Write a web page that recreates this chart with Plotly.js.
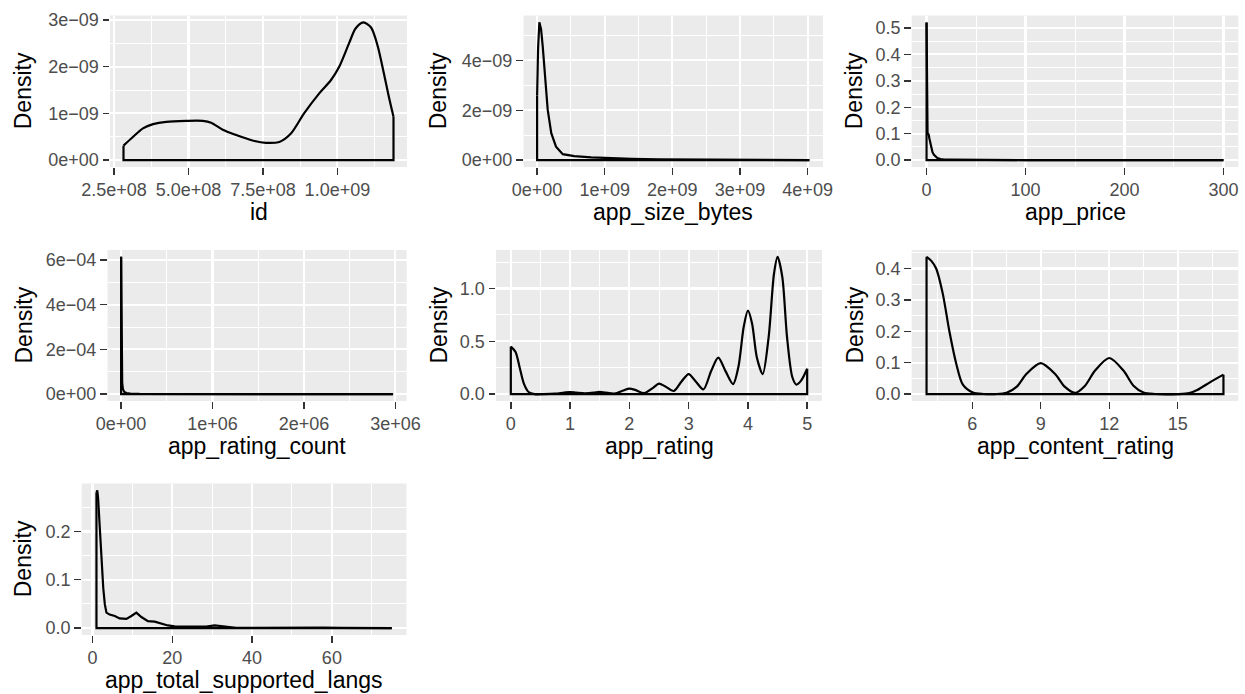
<!DOCTYPE html>
<html><head><meta charset="utf-8">
<script src="https://cdn.plot.ly/plotly-3.0.1.min.js"></script>
<style>html,body{margin:0;padding:0;background:#fff}#chart{width:1245px;height:694px}</style>
</head><body><div id="chart"></div>
<script>
// ---------- data ----------
const idX = [2.8166e8, 3.14e8, 3.47e8, 3.81e8, 4.25e8, 4.92e8, 5.48e8, 5.76e8, 6.15e8, 6.59e8, 7.15e8, 7.6e8, 8.05e8, 8.44e8, 8.88e8, 9.39e8, 9.78e8, 1.006e9, 1.039e9, 1.061e9, 1.087e9, 1.113e9, 1.135e9, 1.156e9, 1.172e9, 1.1884e9];
const idDensity = [0.31e-9, 0.50e-9, 0.68e-9, 0.77e-9, 0.82e-9, 0.84e-9, 0.84e-9, 0.80e-9, 0.65e-9, 0.54e-9, 0.42e-9, 0.37e-9, 0.39e-9, 0.57e-9, 1.0e-9, 1.43e-9, 1.71e-9, 2.0e-9, 2.5e-9, 2.82e-9, 2.95e-9, 2.84e-9, 2.45e-9, 1.86e-9, 1.38e-9, 0.93e-9];

const sizeX = [5.89824e5, 1.5e7, 3.4e7, 5.9e7, 8.3e7, 1.2e8, 1.57e8, 2.1e8, 2.8e8, 3.8e8, 5.5e8, 8.0e8, 1.05e9, 1.4e9, 1.8e9, 2.2e9, 2.6e9, 3.0e9, 3.4e9, 3.8e9, 4.025969664e9];
const sizeDensity = [2.59e-9, 4.5e-9, 5.52e-9, 5.25e-9, 4.58e-9, 3.37e-9, 2.02e-9, 1.08e-9, 0.54e-9, 0.24e-9, 0.16e-9, 0.11e-9, 0.08e-9, 0.05e-9, 0.03e-9, 0.02e-9, 0.015e-9, 0.01e-9, 0.005e-9, 0.005e-9, 0.003e-9];

const priceX = [0, 0.3, 0.6, 1.0, 1.5, 2.0, 3.0, 4.0, 5.0, 6.0, 7.5, 9, 11, 14, 18, 25, 35, 50, 75, 100, 150, 200, 250, 299.99];
const priceDensity = [0.521, 0.30, 0.12, 0.107, 0.095, 0.10, 0.08, 0.06, 0.042, 0.03, 0.02, 0.014, 0.008, 0.004, 0.002, 0.0015, 0.001, 0.0006, 0.0003, 0.0002, 0.0001, 0.0001, 0.00005, 0.00003];

const ratingCountX = [0, 3000, 7000, 12000, 20000, 35000, 60000, 100000, 200000, 400000, 700000, 1000000, 1500000, 2000000, 2500000, 2974676];
const ratingCountDensity = [6.14e-4, 4.0e-4, 1.5e-4, 0.5e-4, 0.22e-4, 0.1e-4, 0.05e-4, 0.025e-4, 0.01e-4, 0.004e-4, 0.002e-4, 0.001e-4, 0.0005e-4, 0.0003e-4, 0.0002e-4, 0.0001e-4];

const ratingX = [0, 0.08, 0.15, 0.22, 0.3, 0.4, 0.55, 0.75, 0.9, 1.0, 1.1, 1.25, 1.4, 1.5, 1.6, 1.75, 1.9, 2.0, 2.1, 2.25, 2.4, 2.5, 2.6, 2.75, 2.88, 3.0, 3.12, 3.25, 3.38, 3.5, 3.62, 3.75, 3.84, 3.93, 4.0, 4.07, 4.15, 4.25, 4.35, 4.44, 4.5, 4.58, 4.66, 4.75, 4.82, 4.9, 5.0];
const ratingDensity = [0.45, 0.40, 0.25, 0.10, 0.02, 0.0, 0.0, 0.005, 0.015, 0.02, 0.015, 0.008, 0.014, 0.022, 0.014, 0.006, 0.035, 0.053, 0.04, 0.01, 0.06, 0.10, 0.075, 0.03, 0.12, 0.19, 0.12, 0.045, 0.22, 0.346, 0.22, 0.095, 0.26, 0.64, 0.79, 0.67, 0.35, 0.19, 0.54, 1.14, 1.30, 1.11, 0.54, 0.16, 0.09, 0.13, 0.24];

const contentRatingX = [4.0, 4.2, 4.42, 4.71, 5.0, 5.3, 5.59, 6.03, 6.5, 7.0, 7.5, 7.94, 8.38, 9.0, 9.62, 10.06, 10.5, 10.94, 11.38, 12.0, 12.62, 13.06, 13.5, 14.0, 15.0, 15.5, 15.85, 16.44, 17.0];
const contentRatingDensity = [0.437, 0.425, 0.40, 0.32, 0.20, 0.097, 0.03, 0.005, 0.0005, 0.0002, 0.004, 0.023, 0.065, 0.099, 0.065, 0.023, 0.004, 0.027, 0.075, 0.115, 0.075, 0.027, 0.005, 0.0005, 0.0002, 0.003, 0.013, 0.039, 0.062];

const langsX = [1, 1.2, 1.4, 1.8, 2.25, 2.7, 3.1, 3.5, 4.3, 5.6, 6.8, 8.5, 9.75, 11, 12.25, 13.9, 15.6, 17.25, 18.9, 20.6, 23, 26, 28.5, 30.6, 33, 36, 40, 45, 50, 55, 58, 62, 68, 75];
const langsDensity = [0.28, 0.285, 0.27, 0.208, 0.139, 0.083, 0.049, 0.032, 0.028, 0.025, 0.020, 0.019, 0.025, 0.032, 0.023, 0.0145, 0.0135, 0.010, 0.0055, 0.0035, 0.003, 0.002, 0.003, 0.0055, 0.003, 0.0008, 0.0005, 0.001, 0.0003, 0.0005, 0.001, 0.0003, 0.0002, 0.0001];

// ---------- tick labels ----------
const idXTicks = [2.5e8, 5e8, 7.5e8, 1e9];
const idXLabels = ['2.5e+08', '5.0e+08', '7.5e+08', '1.0e+09'];
const idYTicks = [0, 1e-9, 2e-9, 3e-9];
const idYLabels = ['0e+00', '1e\u221209', '2e\u221209', '3e\u221209'];

const sizeXTicks = [0, 1e9, 2e9, 3e9, 4e9];
const sizeXLabels = ['0e+00', '1e+09', '2e+09', '3e+09', '4e+09'];
const sizeYTicks = [0, 2e-9, 4e-9];
const sizeYLabels = ['0e+00', '2e\u221209', '4e\u221209'];

const priceXTicks = [0, 100, 200, 300];
const priceXLabels = ['0', '100', '200', '300'];
const priceYTicks = [0, 0.1, 0.2, 0.3, 0.4, 0.5];
const priceYLabels = ['0.0', '0.1', '0.2', '0.3', '0.4', '0.5'];

const ratingCountXTicks = [0, 1e6, 2e6, 3e6];
const ratingCountXLabels = ['0e+00', '1e+06', '2e+06', '3e+06'];
const ratingCountYTicks = [0, 2e-4, 4e-4, 6e-4];
const ratingCountYLabels = ['0e+00', '2e\u221204', '4e\u221204', '6e\u221204'];

const ratingXTicks = [0, 1, 2, 3, 4, 5];
const ratingXLabels = ['0', '1', '2', '3', '4', '5'];
const ratingYTicks = [0, 0.5, 1.0];
const ratingYLabels = ['0.0', '0.5', '1.0'];

const contentRatingXTicks = [6, 9, 12, 15];
const contentRatingXLabels = ['6', '9', '12', '15'];
const contentRatingYTicks = [0, 0.1, 0.2, 0.3, 0.4];
const contentRatingYLabels = ['0.0', '0.1', '0.2', '0.3', '0.4'];

const langsXTicks = [0, 20, 40, 60];
const langsXLabels = ['0', '20', '40', '60'];
const langsYTicks = [0, 0.1, 0.2];
const langsYLabels = ['0.0', '0.1', '0.2'];

const axisTitles = ['id', 'app_size_bytes', 'app_price', 'app_rating_count', 'app_rating', 'app_content_rating', 'app_total_supported_langs'];
const yTitle = 'Density';

// ---------- layout ----------
const W = 1245, H = 694;
const FONT = 'Liberation Sans, Arial, Helvetica, sans-serif';
const rows = [[15.5, 167], [250, 401], [483.5, 635]];
const panels = [
  {x: idX, y: idDensity, xt: idXTicks, xl: idXLabels, yt: idYTicks, yl: idYLabels, lr: [110, 407], row: 0, col: 0, shape: 'spline'},
  {x: sizeX, y: sizeDensity, xt: sizeXTicks, xl: sizeXLabels, yt: sizeYTicks, yl: sizeYLabels, lr: [523.5, 823], row: 0, col: 1, shape: 'linear'},
  {x: priceX, y: priceDensity, xt: priceXTicks, xl: priceXLabels, yt: priceYTicks, yl: priceYLabels, lr: [911.7, 1238.3], row: 0, col: 2, shape: 'linear'},
  {x: ratingCountX, y: ratingCountDensity, xt: ratingCountXTicks, xl: ratingCountXLabels, yt: ratingCountYTicks, yl: ratingCountYLabels, lr: [107.5, 406.7], row: 1, col: 0, shape: 'linear'},
  {x: ratingX, y: ratingDensity, xt: ratingXTicks, xl: ratingXLabels, yt: ratingYTicks, yl: ratingYLabels, lr: [496, 822], row: 1, col: 1, shape: 'spline'},
  {x: contentRatingX, y: contentRatingDensity, xt: contentRatingXTicks, xl: contentRatingXLabels, yt: contentRatingYTicks, yl: contentRatingYLabels, lr: [911.7, 1238.3], row: 1, col: 2, shape: 'spline'},
  {x: langsX, y: langsDensity, xt: langsXTicks, xl: langsXLabels, yt: langsYTicks, yl: langsYLabels, lr: [81.7, 406.5], row: 2, col: 0, shape: 'linear'}
];
const yTitleX = [23, 438, 854];

function minors(t) {
  const step = t[1] - t[0];
  const out = [t[0] - step / 2];
  for (let i = 0; i < t.length - 1; i++) out.push((t[i] + t[i + 1]) / 2);
  out.push(t[t.length - 1] + step / 2);
  return out;
}

const data = [];
const layout = {
  width: W, height: H,
  margin: {l: 0, r: 0, t: 0, b: 0},
  paper_bgcolor: '#FFFFFF',
  plot_bgcolor: '#EBEBEB',
  showlegend: false,
  font: {family: FONT, color: '#000000'},
  annotations: []
};

panels.forEach((p, i) => {
  const n = i + 1;
  const xs = n === 1 ? '' : String(n);
  const xmin = Math.min(...p.x), xmax = Math.max(...p.x);
  const xpad = 0.05 * (xmax - xmin);
  const ymax = Math.max(...p.y);
  const ypad = 0.05 * ymax;
  const [top, bottom] = rows[p.row];
  const common = {
    tickmode: 'array', ticks: 'outside', ticklen: 6.5, tickwidth: 1.4, tickcolor: '#333333',
    tickfont: {family: FONT, size: 18, color: '#4D4D4D'},
    showgrid: true, gridcolor: '#FFFFFF', gridwidth: 2.1, zeroline: false, showline: false,
    fixedrange: true
  };
  layout['xaxis' + xs] = Object.assign({}, common, {
    domain: [p.lr[0] / W, p.lr[1] / W], range: [xmin - xpad, xmax + xpad], anchor: 'y' + xs,
    tickvals: p.xt, ticktext: p.xl,
    minor: {tickmode: 'array', tickvals: minors(p.xt), showgrid: true, gridcolor: '#FFFFFF', gridwidth: 1, ticks: ''}
  });
  layout['yaxis' + xs] = Object.assign({}, common, {
    domain: [1 - bottom / H, 1 - top / H], range: [-ypad, ymax + ypad], anchor: 'x' + xs,
    tickvals: p.yt, ticktext: p.yl,
    minor: {tickmode: 'array', tickvals: minors(p.yt), showgrid: true, gridcolor: '#FFFFFF', gridwidth: 1, ticks: ''}
  });
  data.push({
    type: 'scatter', mode: 'lines', x: p.x, y: p.y, xaxis: 'x' + xs, yaxis: 'y' + xs,
    line: {color: '#000000', width: 2.2, shape: p.shape, smoothing: 0.8}, hoverinfo: 'skip'
  });
  const last = p.x.length - 1;
  data.push({
    type: 'scatter', mode: 'lines',
    x: [p.x[0], p.x[0], p.x[last], p.x[last]],
    y: [p.y[0], 0, 0, p.y[last]],
    xaxis: 'x' + xs, yaxis: 'y' + xs,
    line: {color: '#000000', width: 2.2}, hoverinfo: 'skip'
  });
  layout.annotations.push({
    text: axisTitles[i], xref: 'paper', yref: 'paper',
    x: (p.lr[0] + p.lr[1]) / 2 / W, y: 1 - (bottom + 45) / H,
    xanchor: 'center', yanchor: 'middle', showarrow: false,
    font: {family: FONT, size: 23, color: '#000000'}
  });
  layout.annotations.push({
    text: yTitle, xref: 'paper', yref: 'paper', textangle: -90,
    x: yTitleX[p.col] / W, y: 1 - (top + bottom) / 2 / H,
    xanchor: 'center', yanchor: 'middle', showarrow: false,
    font: {family: FONT, size: 23, color: '#000000'}
  });
});

Plotly.newPlot('chart', data, layout, {displayModeBar: false, staticPlot: true});
</script>
</body></html>
